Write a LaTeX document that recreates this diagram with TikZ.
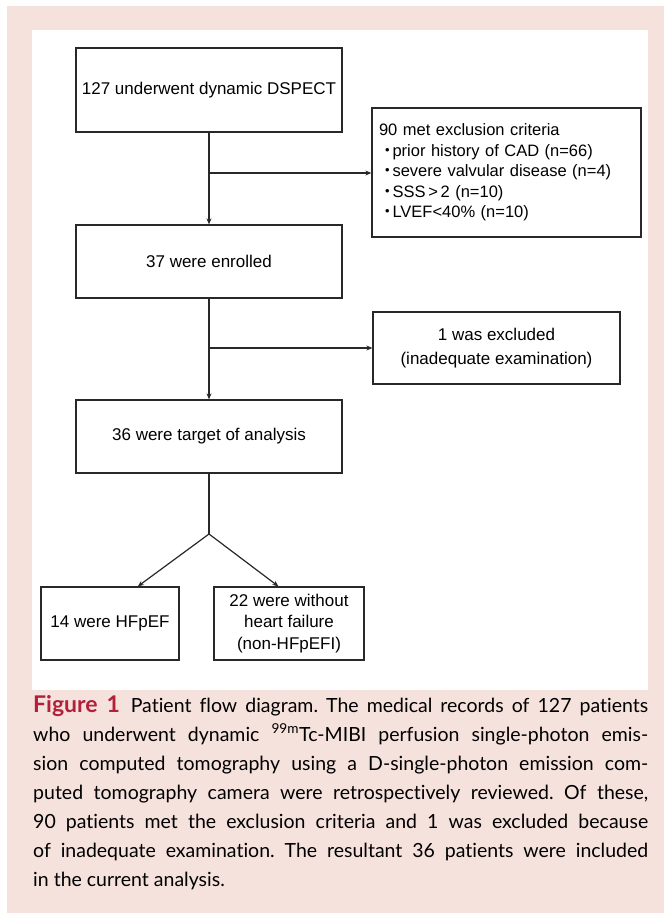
\documentclass[tikz,border=0pt]{standalone}
\usepackage{fontspec}
\setmainfont{Liberation Sans}
\newfontfamily\capfont[RawFeature={-liga;-dlig}]{Lato}
\newfontfamily\cjk{Noto Sans CJK JP}
\usetikzlibrary{arrows.meta,calc}
\definecolor{pinkbg}{RGB}{246,226,221}
\definecolor{figred}{RGB}{178,32,58}
\definecolor{linecol}{RGB}{40,40,40}
\newcommand{\jdot}{\kern-2pt{\cjk ・}\kern-3pt}
\begin{document}
\begin{tikzpicture}[x=1pt,y=-1pt,
  box/.style={draw=linecol,line width=1.3pt,inner sep=0pt,align=center,
    font=\fontsize{17}{21.5}\selectfont},
  conn/.style={draw=linecol,line width=1.2pt},
  arr/.style={conn,-{Stealth[length=6pt,width=5pt]}}]
\useasboundingbox (0,0) rectangle (664,915);
\fill[white] (0,0) rectangle (664,915);
\fill[pinkbg] (7,6) rectangle (664,913);
\fill[white] (32,30) rectangle (648,690);

\node[box,minimum width=266pt,minimum height=84pt] (b1) at (209,90) {127 underwent dynamic DSPECT};
\node[box,minimum width=269pt,minimum height=129pt,text width=255pt,align=left,
  font=\fontsize{16.5}{22.5}\selectfont] (ex) at (506.5,172.5)
  {90 met exclusion criteria\\
   \jdot prior history of CAD (n=66)\\
   \jdot severe valvular disease (n=4)\\
   \jdot SSS\,>\,2 (n=10)\\
   \jdot LVEF<40\% (n=10)};
\node[box,minimum width=266pt,minimum height=73pt] (b2) at (209,261.5) {37 were enrolled};
\node[box,minimum width=247pt,minimum height=72pt,font=\fontsize{17}{24}\selectfont] (exc) at (496.5,348) {1 was excluded\\(inadequate examination)};
\node[box,minimum width=266pt,minimum height=73pt] (b3) at (209,436.5) {36 were target of analysis};
\node[box,minimum width=138pt,minimum height=73pt] (hf) at (110,623.5) {14 were HFpEF};
\node[box,minimum width=150pt,minimum height=73pt] (nhf) at (289,623.5) {22 were without\\heart failure\\(non-HFpEFI)};

\coordinate (j1) at (209,173);
\coordinate (j2) at (209,348);
\coordinate (sp) at (209,534);

\draw[arr] (b1.south) -- (b2.north);
\draw[arr] (j1) -- (j1 -| ex.west);
\draw[arr] (b2.south) -- (b3.north);
\draw[arr] (j2) -- (j2 -| exc.west);
\draw[conn] (b3.south) -- (sp);
\draw[arr] (sp) -- ($(hf.north west)!0.7!(hf.north east)$);
\draw[arr] (sp) -- ($(nhf.north west)!0.43!(nhf.north east)$);

\node[anchor=north west,inner sep=0pt,text width=615pt,align=justify,
  font=\capfont\fontsize{19.5}{29}\selectfont] (cap) at (33,695)
  {\frenchspacing\hyphenpenalty=10000\exhyphenpenalty=10000
   {\fontsize{23}{29}\selectfont\bfseries\color{figred}Figure 1}\hspace{0.55em}Patient flow diagram. The medical records of 127 patients\linebreak
   who underwent dynamic \textsuperscript{99m}Tc-MIBI perfusion single-photon emis-\linebreak
   sion computed tomography using a D-single-photon emission com-\linebreak
   puted tomography camera were retrospectively reviewed. Of these,\linebreak
   90 patients met the exclusion criteria and 1 was excluded because\linebreak
   of inadequate examination. The resultant 36 patients were included\linebreak
   in the current analysis.};
\end{tikzpicture}
\end{document}
